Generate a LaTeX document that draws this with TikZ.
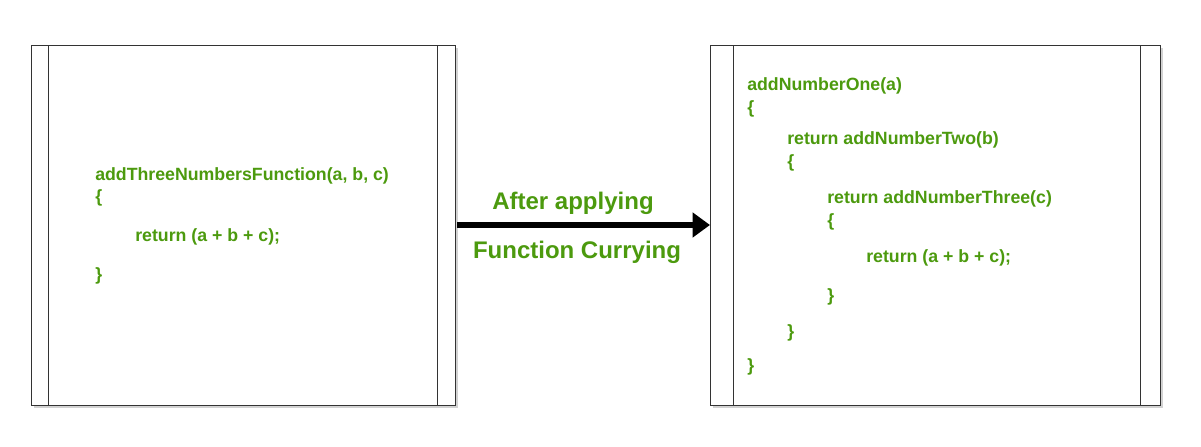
\documentclass[tikz,border=0pt]{standalone}
\usepackage{fontspec}
\setmainfont{Liberation Sans}
\usetikzlibrary{shadows,arrows.meta}
\definecolor{codegreen}{HTML}{4C9A0E}
\tikzset{
  codebox/.style={draw=black!80,fill=white,drop shadow={shadow xshift=2pt,shadow yshift=-2pt,opacity=0.35}},
  code/.style={anchor=west,inner sep=0pt,text=codegreen,font=\fontsize{13.3}{15}\selectfont\bfseries},
  label/.style={text=codegreen,font=\fontsize{18}{20}\selectfont\bfseries}
}
\begin{document}
\begin{tikzpicture}[x=0.75pt,y=-0.75pt]
\useasboundingbox[fill=white](0,0) rectangle (1201,446);
% left box
\draw[codebox](31,45) rectangle (455,405);
\draw[black!80](48,45)--(48,405);
\draw[black!80](437,45)--(437,405);
\node[code](l1) at (95,176){addThreeNumbersFunction(a, b, c)};
\node[code](l2) at (95,198){\{};
\node[code](l3) at (135,237){return (a + b + c);};
\node[code](l4) at (95,276){\}};
% right box
\draw[codebox](710,45) rectangle (1160,405);
\draw[black!80](733,45)--(733,405);
\draw[black!80](1140,45)--(1140,405);
\node[code](r1) at (747,86){addNumberOne(a)};
\node[code](r2) at (747,109){\{};
\node[code](r3) at (787,140){return addNumberTwo(b)};
\node[code](r4) at (787,163){\{};
\node[code](r5) at (827,199){return addNumberThree(c)};
\node[code](r6) at (827,222){\{};
\node[code](r7) at (866,258){return (a + b + c);};
\node[code](r8) at (827,297){\}};
\node[code](r9) at (787,333){\}};
\node[code](r10) at (747,367){\}};
% arrow
\coordinate(a0) at (457,225);
\coordinate(a1) at (710,225);
\draw[line width=5pt,-{Triangle[length=13pt,width=18pt]}](a0)--(a1);
\node[label](t1) at (573,203){After applying};
\node[label](t2) at (577,252){Function Currying};
\end{tikzpicture}
\end{document}
